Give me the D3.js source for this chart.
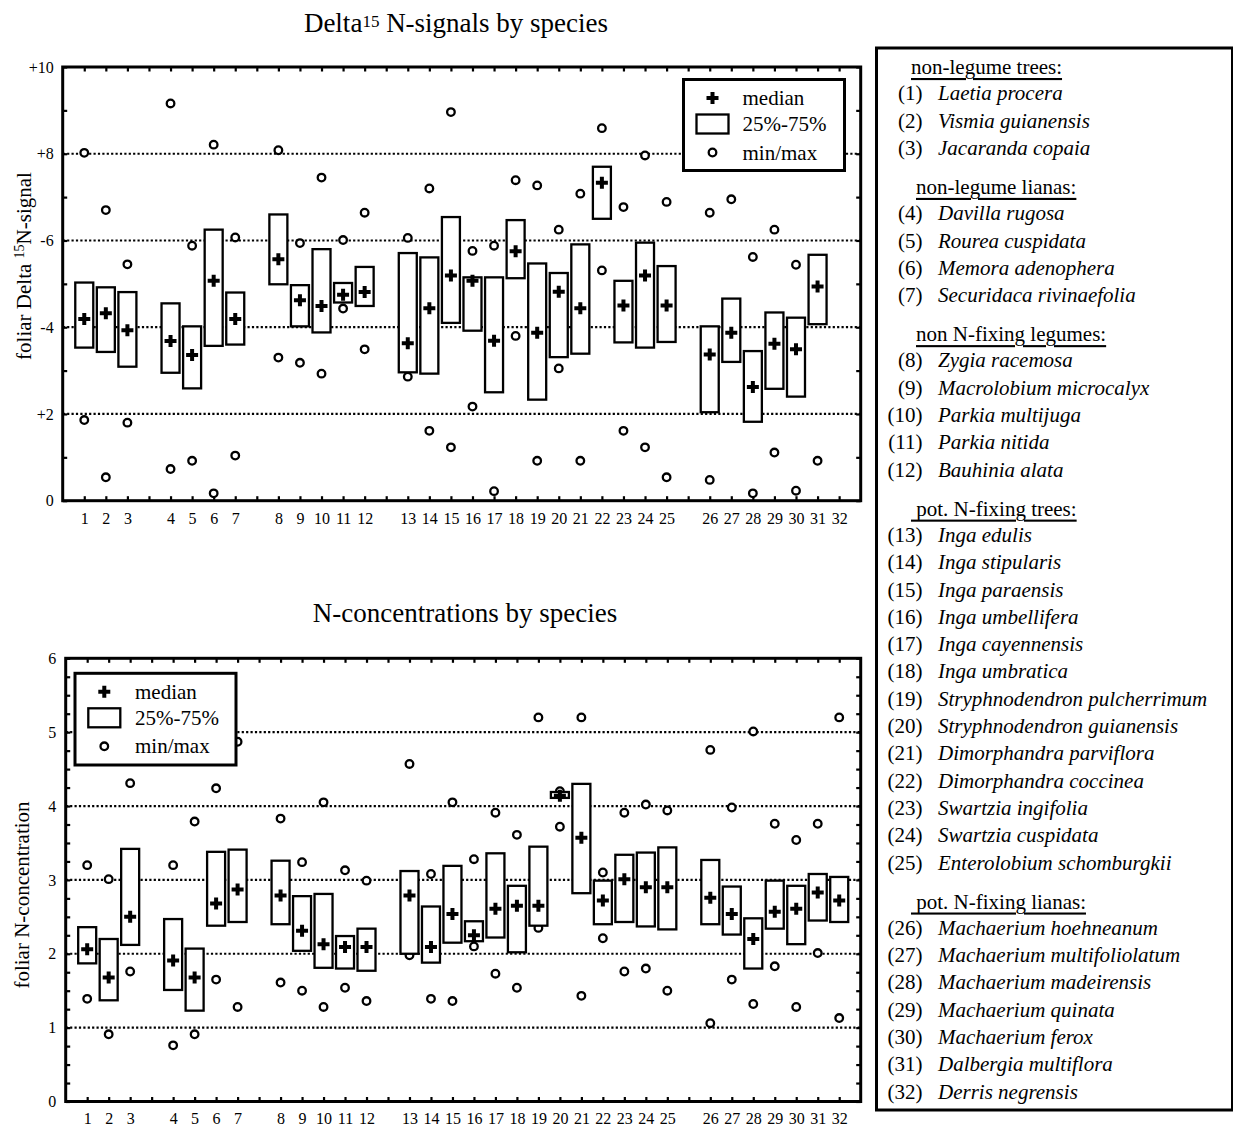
<!DOCTYPE html>
<html>
<head>
<meta charset="utf-8">
<script src="https://cdn.jsdelivr.net/npm/d3@7"></script>
<style>
  body { margin: 0; background: #fff; }
  svg { display: block; }
  text { font-family: "Liberation Serif", "Times New Roman", serif; fill: #000; }
</style>
</head>
<body>
<svg id="fig" width="1233" height="1126"></svg>
<script>
// ---- species groups and names ----
const groupNames = ["non-legume trees:", "non-legume lianas:", "non N-fixing legumes:", " pot. N-fixing trees:", " pot. N-fixing lianas:"];
const groupSizes = [3, 4, 5, 13, 7];
const speciesNames = [
  "Laetia procera", "Vismia guianensis", "Jacaranda copaia",
  "Davilla rugosa", "Rourea cuspidata", "Memora adenophera", "Securidaca rivinaefolia",
  "Zygia racemosa", "Macrolobium microcalyx", "Parkia multijuga", "Parkia nitida", "Bauhinia alata",
  "Inga edulis", "Inga stipularis", "Inga paraensis", "Inga umbellifera", "Inga cayennensis", "Inga umbratica",
  "Stryphnodendron pulcherrimum", "Stryphnodendron guianensis", "Dimorphandra parviflora", "Dimorphandra coccinea",
  "Swartzia ingifolia", "Swartzia cuspidata", "Enterolobium schomburgkii",
  "Machaerium hoehneanum", "Machaerium multifoliolatum", "Machaerium madeirensis", "Machaerium quinata",
  "Machaerium ferox", "Dalbergia multiflora", "Derris negrensis"
];

// ---- delta 15N signal statistics (species 1..32) ----
const d15Median = [4.19, 4.32, 3.93, 3.68, 3.36, 5.07, 4.19, 5.57, 4.62, 4.49, 4.75, 4.81, 3.63, 4.44, 5.19, 5.07,
                   3.69, 5.75, 3.87, 4.82, 4.44, 7.33, 4.50, 5.19, 4.50, 3.37, 3.87, 2.62, 3.62, 3.49, 4.94, null];
const d15Q1 = [3.53, 3.43, 3.09, 2.95, 2.59, 3.57, 3.60, 4.99, 4.02, 3.88, 4.57, 4.49, 2.96, 2.93, 4.10, 3.92,
               2.50, 5.13, 2.33, 3.31, 3.39, 6.50, 3.65, 3.53, 3.66, 2.04, 3.20, 1.82, 2.58, 2.40, 4.07, null];
const d15Q3 = [5.03, 4.92, 4.81, 4.55, 4.02, 6.25, 4.80, 6.60, 4.97, 5.80, 5.02, 5.39, 5.71, 5.61, 6.54, 5.15,
               5.15, 6.47, 5.47, 5.25, 5.91, 7.70, 5.07, 5.95, 5.41, 4.02, 4.66, 3.45, 4.34, 4.22, 5.67, null];
const d15Min = [1.86, 0.54, 1.80, 0.73, 0.92, 0.17, 1.04, 3.30, 3.18, 2.93, 4.43, 3.49, 2.86, 1.61, 1.23, 2.17,
                0.22, 3.80, 0.92, 3.05, 0.92, 5.31, 1.61, 1.23, 0.54, 0.48, null, 0.17, 1.11, 0.23, 0.92, null];
const d15Max = [8.02, 6.70, 5.45, 9.16, 5.88, 8.21, 6.07, 8.08, 5.94, 7.45, 6.01, 6.64, 6.06, 7.20, 8.96, 5.76,
                5.88, 7.39, 7.27, 6.25, 7.08, 8.59, 6.77, 7.96, 6.89, 6.64, 6.95, 5.62, 6.25, 5.44, null, null];
const d15TickValues = [0, 2, 4, 6, 8, 10];
const d15TickLabels = ["0", "+2", "-4", "-6", "+8", "+10"];

// ---- foliar N concentration statistics (species 1..32) ----
const nMedian = [2.06, 1.68, 2.50, 1.91, 1.68, 2.68, 2.87, 2.79, 2.31, 2.13, 2.09, 2.09, 2.79, 2.09, 2.54, 2.25,
                 2.61, 2.65, 2.65, 4.14, 3.57, 2.72, 3.01, 2.90, 2.90, 2.76, 2.54, 2.20, 2.57, 2.61, 2.83, 2.72];
const nQ1 = [1.87, 1.37, 2.12, 1.51, 1.23, 2.38, 2.43, 2.40, 2.04, 1.81, 1.80, 1.77, 2.00, 1.88, 2.15, 2.17,
             2.22, 2.02, 2.38, 4.11, 2.82, 2.40, 2.43, 2.37, 2.33, 2.40, 2.26, 1.80, 2.34, 2.13, 2.45, 2.43];
const nQ3 = [2.36, 2.20, 3.42, 2.47, 2.07, 3.38, 3.41, 3.26, 2.78, 2.81, 2.24, 2.34, 3.12, 2.64, 3.19, 2.44,
             3.36, 2.92, 3.45, 4.19, 4.30, 2.99, 3.34, 3.37, 3.44, 3.27, 2.91, 2.48, 2.99, 2.92, 3.08, 3.04];
const nMin = [1.39, 0.91, 1.76, 0.76, 0.91, 1.65, 1.28, 1.61, 1.50, 1.28, 1.54, 1.36, 1.98, 1.39, 1.36, 2.10,
              1.73, 1.54, 2.35, 3.72, 1.43, 2.21, 1.76, 1.80, 1.50, 1.06, 1.65, 1.32, 1.83, 1.28, 2.01, 1.13];
const nMax = [3.20, 3.01, 4.31, 3.20, 3.79, 4.24, 4.87, 3.83, 3.24, 4.05, 3.13, 2.99, 4.57, 3.08, 4.05, 3.28,
              3.91, 3.61, 5.20, 4.20, 5.20, 3.10, 3.91, 4.02, 3.94, 4.76, 3.98, 5.01, 3.76, 3.54, 3.76, 5.20];
const nTickValues = [0, 1, 2, 3, 4, 5, 6];
const nTickLabels = ["0", "1", "2", "3", "4", "5", "6"];

// ---- layout helpers ----
const svg = d3.select("#fig");
const catLabels = speciesNames.map((_, i) => String(i + 1));

// slot position of each species along the x axis: one empty slot between groups
const groupOf = [];
groupSizes.forEach((n, g) => { for (let k = 0; k < n; k++) groupOf.push(g); });
const slotOf = catLabels.map((_, i) => i + 1 + groupOf[i]);
const nSlots = slotOf[slotOf.length - 1] + 1;

const crossPath = d3.symbol().type(d3.symbolCross).size(80)();

function drawPanel(cfg) {
  const x = d3.scaleLinear().domain([0, nSlots]).range([cfg.left, cfg.right]);
  const y = d3.scaleLinear().domain(cfg.yDomain).range([cfg.bottom, cfg.top]);
  const g = svg.append("g");

  // dotted grid lines
  g.append("g").selectAll("line").data(cfg.grid).join("line")
    .attr("x1", cfg.left).attr("x2", cfg.right)
    .attr("y1", d => y(d)).attr("y2", d => y(d))
    .attr("stroke", "#000").attr("stroke-width", 2.2)
    .attr("stroke-dasharray", "2.2,2.2");

  const rows = catLabels.map((c, i) => ({
    slot: slotOf[i], med: cfg.med[i], q1: cfg.q1[i], q3: cfg.q3[i], mn: cfg.mn[i], mx: cfg.mx[i]
  }));

  // min / max circles
  const pts = [];
  rows.forEach(r => {
    if (r.mn != null) pts.push({ slot: r.slot, v: r.mn });
    if (r.mx != null) pts.push({ slot: r.slot, v: r.mx });
  });
  g.append("g").selectAll("circle").data(pts).join("circle")
    .attr("cx", d => x(d.slot)).attr("cy", d => y(d.v)).attr("r", 3.8)
    .attr("fill", "#fff").attr("stroke", "#000").attr("stroke-width", 2.3);

  // interquartile boxes
  const bw = 18;
  g.append("g").selectAll("rect").data(rows.filter(r => r.q1 != null)).join("rect")
    .attr("x", d => x(d.slot) - bw / 2).attr("width", bw)
    .attr("y", d => y(d.q3)).attr("height", d => y(d.q1) - y(d.q3))
    .attr("fill", "#fff").attr("stroke", "#000").attr("stroke-width", 2.3);

  // medians
  g.append("g").selectAll("path").data(rows.filter(r => r.med != null)).join("path")
    .attr("d", crossPath)
    .attr("transform", d => `translate(${x(d.slot)},${y(d.med)})`)
    .attr("fill", "#000");

  // axes: ticks point inward on all four sides
  const yTicks = d3.range(cfg.yDomain[0], cfg.yDomain[1] + 1e-9, cfg.minorStep).map(v => +v.toFixed(4));
  const labelOf = v => {
    const k = cfg.tickValues.indexOf(v);
    return k >= 0 ? cfg.tickLabels[k] : "";
  };
  const slotTicks = d3.range(1, nSlots);
  const slotLabel = s => { const k = slotOf.indexOf(s); return k >= 0 ? catLabels[k] : ""; };

  const axL = g.append("g").attr("transform", `translate(${cfg.left},0)`)
    .call(d3.axisLeft(y).tickValues(yTicks).tickFormat(labelOf).tickSize(-4.5).tickSizeOuter(0).tickPadding(cfg.yPad));
  const axR = g.append("g").attr("transform", `translate(${cfg.right},0)`)
    .call(d3.axisRight(y).tickValues(yTicks).tickFormat("").tickSize(-4.5).tickSizeOuter(0));
  const axB = g.append("g").attr("transform", `translate(0,${cfg.bottom})`)
    .call(d3.axisBottom(x).tickValues(slotTicks).tickFormat(slotLabel).tickSize(-4.5).tickSizeOuter(0).tickPadding(11.5));
  const axT = g.append("g").attr("transform", `translate(0,${cfg.top})`)
    .call(d3.axisTop(x).tickValues(slotTicks).tickFormat("").tickSize(-4.5).tickSizeOuter(0));
  [axL, axR, axB, axT].forEach(a => {
    a.select(".domain").remove();
    a.selectAll(".tick line").attr("stroke", "#000").attr("stroke-width", 2.2);
  });
  axL.selectAll("text").attr("font-size", 16).attr("font-family", "Liberation Serif, serif");
  axB.selectAll("text").attr("font-size", 16).attr("font-family", "Liberation Serif, serif");

  // frame
  g.append("rect").attr("x", cfg.left).attr("y", cfg.top)
    .attr("width", cfg.right - cfg.left).attr("height", cfg.bottom - cfg.top)
    .attr("fill", "none").attr("stroke", "#000").attr("stroke-width", 3);

  // legend
  const L = cfg.legend;
  const lg = g.append("g");
  lg.append("rect").attr("x", L.x).attr("y", L.y).attr("width", L.w).attr("height", L.h)
    .attr("fill", "#fff").attr("stroke", "#000").attr("stroke-width", 3);
  lg.append("path").attr("d", crossPath)
    .attr("transform", `translate(${L.x + L.symX},${L.y + L.rows[0]})`).attr("fill", "#000");
  lg.append("rect").attr("x", L.x + L.symX - 16).attr("y", L.y + L.rows[1] - 9.5)
    .attr("width", 32).attr("height", 19)
    .attr("fill", "#fff").attr("stroke", "#000").attr("stroke-width", 2.3);
  lg.append("circle").attr("cx", L.x + L.symX).attr("cy", L.y + L.rows[2]).attr("r", 3.8)
    .attr("fill", "#fff").attr("stroke", "#000").attr("stroke-width", 2.3);
  lg.selectAll("text.lt").data(["median", "25%-75%", "min/max"]).join("text")
    .attr("class", "lt")
    .attr("x", L.x + L.textX).attr("y", (d, i) => L.y + L.rows[i])
    .attr("dominant-baseline", "central")
    .attr("font-size", 21).text(d => d);
}

// ---- upper panel: delta 15N ----
drawPanel({
  left: 62.7, right: 860.7, top: 67, bottom: 500.7,
  yDomain: [0, 10], minorStep: 1, grid: [2, 4, 6, 8],
  tickValues: d15TickValues, tickLabels: d15TickLabels, yPad: 9,
  med: d15Median, q1: d15Q1, q3: d15Q3, mn: d15Min, mx: d15Max,
  legend: { x: 683.5, y: 79.5, w: 161, h: 91, symX: 29, textX: 59, rows: [18.5, 44.5, 73] }
});

// ---- lower panel: N concentration ----
drawPanel({
  left: 65.7, right: 860.7, top: 658.3, bottom: 1101.5,
  yDomain: [0, 6], minorStep: 0.25, grid: [1, 2, 3, 4, 5],
  tickValues: nTickValues, tickLabels: nTickLabels, yPad: 9.5,
  med: nMedian, q1: nQ1, q3: nQ3, mn: nMin, mx: nMax,
  legend: { x: 75, y: 673.3, w: 161, h: 91.7, symX: 29.3, textX: 60, rows: [18.5, 44.5, 73] }
});

// ---- titles ----
const t1 = svg.append("text").attr("x", 456).attr("y", 32).attr("text-anchor", "middle").attr("font-size", 27);
t1.append("tspan").text("Delta");
t1.append("tspan").attr("font-size", 17).attr("dy", -5).text("15");
t1.append("tspan").attr("dy", 5).text(" N-signals by species");

svg.append("text").attr("x", 465).attr("y", 622).attr("text-anchor", "middle")
  .attr("font-size", 27).text("N-concentrations by species");

// ---- y axis titles ----
const yl1 = svg.append("text").attr("transform", "translate(31,266) rotate(-90)")
  .attr("text-anchor", "middle").attr("font-size", 21);
yl1.append("tspan").text("foliar Delta  ");
yl1.append("tspan").attr("font-size", 14).attr("dy", -7).text("15");
yl1.append("tspan").attr("dy", 7).text("N-signal");

svg.append("text").attr("transform", "translate(29,895) rotate(-90)")
  .attr("text-anchor", "middle").attr("font-size", 21).text("foliar N-concentration");

// ---- species key ----
const key = svg.append("g");
key.append("rect").attr("x", 876.5).attr("y", 48).attr("width", 356).attr("height", 1062)
  .attr("fill", "none").attr("stroke", "#000").attr("stroke-width", 3);

const rowGap = 27.3, headGap = 39, headToRow = 26.3;
const headX = [911, 916, 916, 911, 911];
let yy = 67;
let idx = 0;
groupNames.forEach((name, gi) => {
  if (gi > 0) yy += headGap;
  key.append("text").attr("x", headX[gi]).attr("y", yy)
    .attr("dominant-baseline", "central").attr("font-size", 21)
    .attr("text-decoration", "underline")
    .style("white-space", "pre").text(name);
  yy += headToRow;
  for (let k = 0; k < groupSizes[gi]; k++) {
    key.append("text").attr("x", 922.5).attr("y", yy).attr("text-anchor", "end")
      .attr("dominant-baseline", "central").attr("font-size", 21).text(`(${idx + 1})`);
    key.append("text").attr("x", 938).attr("y", yy)
      .attr("dominant-baseline", "central").attr("font-size", 21).attr("font-style", "italic")
      .text(speciesNames[idx]);
    idx++;
    if (k < groupSizes[gi] - 1) yy += rowGap;
  }
});
</script>
</body>
</html>
